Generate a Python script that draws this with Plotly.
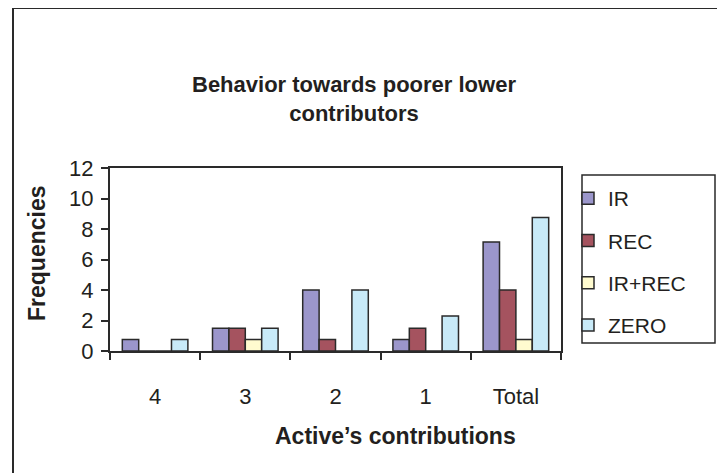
import plotly.graph_objects as go

categories = ["4", "3", "2", "1", "Total"]
series_names = ["IR", "REC", "IR+REC", "ZERO"]
ir_values = [0.75, 1.5, 4.0, 0.75, 7.15]
rec_values = [0.0, 1.5, 0.75, 1.5, 4.0]
irrec_values = [0.0, 0.75, 0.0, 0.0, 0.75]
zero_values = [0.75, 1.5, 4.0, 2.3, 8.75]
colors = ["#9B96CB", "#A5535F", "#FFFBCF", "#C8EAF8"]

W, H = 725, 473
OFF = 8  # page body margin
L, R, T, B = 110, 561, 168, 351  # plot area in page px

def px_x(x):
    return (x - L) / (R - L)

def px_y(y):
    return (B - y) / (B - T)

fig = go.Figure()
for name, vals, col in zip(series_names, [ir_values, rec_values, irrec_values, zero_values], colors):
    fig.add_trace(go.Bar(
        x=categories, y=vals, name=name, legendgroup=name,
        marker=dict(color=col, line=dict(color="#2a2a2a", width=1.5)),
    ))

font_family = "Liberation Sans, Arial, sans-serif"
txt = "#231f20"

fig.update_layout(
    width=W - OFF, height=H - OFF,
    margin=dict(l=L - OFF, r=W - R, t=T - OFF, b=H - B, pad=0),
    paper_bgcolor="white", plot_bgcolor="white",
    barmode="group", bargap=0.273, bargroupgap=0,
    font=dict(family=font_family, size=21, color=txt),
    showlegend=True,
    legend=dict(
        x=px_x(568), y=px_y(178), xanchor="left", yanchor="top",
        xref="paper", yref="paper",
        font=dict(size=21, color=txt),
        bgcolor="rgba(0,0,0,0)", borderwidth=0,
        tracegroupgap=12, itemwidth=30,
    ),
    xaxis=dict(
        type="category", showgrid=False, zeroline=False,
        showline=True, linecolor="#2a2a2a", linewidth=2, mirror=True,
        ticks="outside", tickson="boundaries", ticklen=7, tickwidth=1.5, tickcolor="#2a2a2a",
        ticklabelstandoff=25,
        tickfont=dict(size=22, color=txt),
        fixedrange=True,
    ),
    yaxis=dict(
        range=[0, 12], dtick=2, showgrid=False, zeroline=False,
        showline=True, linecolor="#2a2a2a", linewidth=2, mirror=True,
        ticks="outside", ticklen=7, tickwidth=1.5, tickcolor="#2a2a2a",
        ticklabelstandoff=3,
        tickfont=dict(size=22, color=txt),
        fixedrange=True,
    ),
    shapes=[
        # outer chart border (top and left)
        dict(type="line", xref="paper", yref="paper", x0=px_x(13), x1=px_x(740), y0=px_y(8), y1=px_y(8),
             line=dict(color="#2a2a2a", width=2)),
        dict(type="line", xref="paper", yref="paper", x0=px_x(13), x1=px_x(13), y0=px_y(8), y1=px_y(490),
             line=dict(color="#2a2a2a", width=2)),
        # legend box
        dict(type="rect", xref="paper", yref="paper", x0=px_x(582), x1=px_x(715), y0=px_y(175), y1=px_y(343),
             line=dict(color="#2a2a2a", width=1.5)),
    ],
    annotations=[
        dict(text="<b>Behavior towards poorer lower<br>contributors</b>", xref="paper", yref="paper",
             x=px_x(354), y=px_y(99), xanchor="center", yanchor="middle", showarrow=False,
             font=dict(size=22, color=txt)),
        dict(text="<b>Frequencies</b>", xref="paper", yref="paper",
             x=px_x(37), y=px_y(253), xanchor="center", yanchor="middle", showarrow=False,
             textangle=-90, font=dict(size=23, color=txt)),
        dict(text="<b>Active’s contributions</b>", xref="paper", yref="paper",
             x=px_x(395), y=px_y(436), xanchor="center", yanchor="middle", showarrow=False,
             font=dict(size=23, color=txt)),
    ],
)

fig.write_html("out.html")
